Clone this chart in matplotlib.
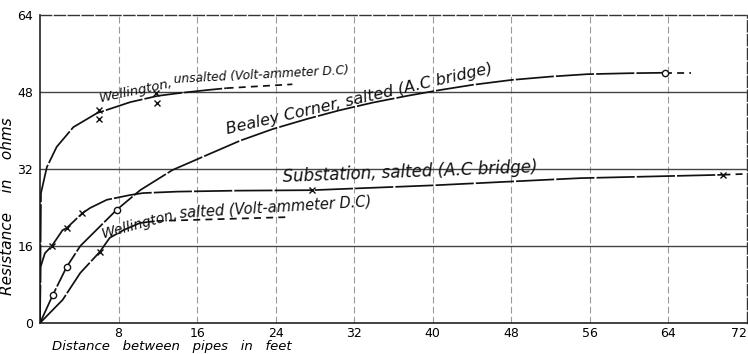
import matplotlib
matplotlib.use("Agg")
import matplotlib.pyplot as plt

# Distance between pipes (ft) and resistance (ohms) for each test ground
well_unsalted_x = [0, 0.05, 0.1, 0.7, 1.7, 3.4, 5.8, 9.2, 12.0, 14.3, 17.0, 19.0]
well_unsalted_r = [0, 14.0, 27.0, 32.4, 36.6, 40.7, 43.6, 45.9, 47.2, 47.8, 48.4, 48.8]
well_unsalted_ext_x = [19.0, 25.7]
well_unsalted_ext_r = [48.8, 49.6]
well_unsalted_pts_x = [6.0, 6.0, 11.8, 11.9]
well_unsalted_pts_r = [44.3, 42.4, 47.8, 45.7]

bealey_x = [0, 1.3, 2.7, 4.1, 7.8, 10.2, 13.5, 17.0, 20.4, 23.7, 27.2, 30.5,
            33.9, 37.4, 40.7, 44.1, 48.0, 52.0, 55.7, 60.0, 63.6]
bealey_r = [0, 5.8, 11.6, 16.0, 23.5, 27.6, 31.8, 34.9, 37.9, 40.3, 42.4, 44.2,
            45.8, 47.2, 48.4, 49.5, 50.5, 51.2, 51.7, 51.9, 52.0]
bealey_ext_x = [63.6, 66.3]
bealey_ext_r = [52.0, 52.0]
bealey_pts_x = [1.3, 2.7, 7.8, 63.6]
bealey_pts_r = [5.8, 11.6, 23.5, 52.0]

subst_x = [0, 0.05, 0.5, 1.2, 2.3, 2.7, 4.3, 5.1, 6.8, 9.2, 10.5, 14.0, 20.0,
           27.7, 40.0, 55.0, 69.6]
subst_r = [0, 11.6, 14.5, 16.0, 19.3, 19.7, 22.8, 23.9, 25.6, 26.6, 27.0, 27.3,
           27.5, 27.6, 28.6, 30.1, 30.8]
subst_ext_x = [69.6, 72.0]
subst_ext_r = [30.8, 31.0]
subst_pts_x = [1.2, 2.7, 4.3, 27.7, 69.6]
subst_pts_r = [16.0, 19.7, 22.8, 27.6, 30.8]

well_salted_x = [0, 1.0, 2.3, 4.1, 6.1, 7.1, 8.5, 10.2, 11.9]
well_salted_r = [0, 2.1, 4.8, 10.4, 14.8, 17.7, 19.3, 20.8, 21.2]
well_salted_ext_x = [11.9, 25.2]
well_salted_ext_r = [21.2, 22.0]
well_salted_pts_x = [6.1]
well_salted_pts_r = [14.8]

x_ticks = [0, 8, 16, 24, 32, 40, 48, 56, 64, 72]
x_tick_labels = ["", "8", "16", "24", "32", "40", "48", "56", "64", "72"]
y_ticks = [0, 16, 32, 48, 64]
y_tick_labels = ["0", "16", "32", "48", "64"]

fig = plt.figure(figsize=(7.48, 3.54), dpi=100)
ax = fig.add_axes([40 / 748, 31 / 354, 707 / 748, 308 / 354])
ax.set_xlim(0, 72)
ax.set_ylim(0, 64)

# grid: faint dashed verticals, firmer horizontals
for xv in x_ticks[1:-1]:
    ax.axvline(xv, color="#9a9a9a", lw=0.8, ls=(0, (6, 3)), zorder=1)
for yv in y_ticks[1:-1]:
    ax.axhline(yv, color="#444444", lw=1.0, zorder=1)

for side in ("top", "right"):
    ax.spines[side].set_linestyle((0, (8, 2)))
    ax.spines[side].set_color("#333333")
    ax.spines[side].set_linewidth(1.0)
for side in ("left", "bottom"):
    ax.spines[side].set_color("#222222")
    ax.spines[side].set_linewidth(1.2)

line_kw = dict(color="#111111", lw=1.25, ls=(0, (22, 1.2)), zorder=3)
ext_kw = dict(color="#111111", lw=1.25, ls=(0, (4, 3)), zorder=3)

ax.plot(well_unsalted_x, well_unsalted_r, **line_kw)
ax.plot(well_unsalted_ext_x, well_unsalted_ext_r, **ext_kw)
ax.plot(well_unsalted_pts_x, well_unsalted_pts_r, "x", color="#111111", ms=4.5, mew=1.0, zorder=4)

ax.plot(bealey_x, bealey_r, **line_kw)
ax.plot(bealey_ext_x, bealey_ext_r, **ext_kw)
ax.plot(bealey_pts_x, bealey_pts_r, "o", mfc="white", mec="#111111", ms=4.5, mew=1.0, zorder=4)

ax.plot(subst_x, subst_r, **line_kw)
ax.plot(subst_ext_x, subst_ext_r, **ext_kw)
ax.plot(subst_pts_x, subst_pts_r, "x", color="#111111", ms=4.5, mew=1.0, zorder=4)

ax.plot(well_salted_x, well_salted_r, **line_kw)
ax.plot(well_salted_ext_x, well_salted_ext_r, **ext_kw)
ax.plot(well_salted_pts_x, well_salted_pts_r, "x", color="#111111", ms=4.5, mew=1.0, zorder=4)

lab_kw = dict(style="italic", color="#111111", ha="left", va="baseline",
              rotation_mode="anchor", zorder=5)
ax.text(6.1, 45.9, "Wellington,", fontsize=9.5, rotation=12, **lab_kw)
ax.text(13.6, 49.9, "unsalted (Volt-ammeter D.C)", fontsize=8.8, rotation=3, **lab_kw)
ax.text(19.1, 39.2, "Bealey Corner, salted (A.C bridge)", fontsize=11.5,
        rotation=13, **lab_kw)
ax.text(24.7, 29.3, "Substation, salted (A.C bridge)", fontsize=12,
        rotation=2.2, **lab_kw)
ax.text(6.4, 17.6, "Wellington,", fontsize=10, rotation=15, **lab_kw)
ax.text(14.2, 21.9, "salted (Volt-ammeter D.C)", fontsize=10.5, rotation=3.5, **lab_kw)

ax.set_xticks(x_ticks)
ax.set_xticklabels(x_tick_labels, fontsize=9)
ax.get_xticklabels()[-1].set_ha("right")
ax.set_yticks(y_ticks)
ax.set_yticklabels(y_tick_labels, fontsize=9)
ax.tick_params(length=0, pad=3)
ax.tick_params(axis="y", pad=5)

ax.set_xlabel("Distance   between   pipes   in   feet", style="italic",
              fontsize=9.5, labelpad=0)
ax.xaxis.set_label_coords(0.187, -0.055)
ax.xaxis.label.set_va("top")
ax.set_ylabel("Resistance    in    ohms", style="italic", fontsize=11, labelpad=6)
ax.yaxis.set_label_coords(-0.035, 0.38)

fig.savefig("out.png", dpi=100)
